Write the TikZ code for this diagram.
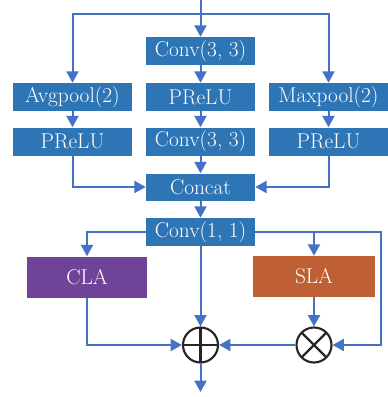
\documentclass[tikz,border=0pt]{standalone}
\usepackage{xcolor}
\usepackage{tikz}
\usetikzlibrary{positioning, arrows.meta}
\definecolor{boxblue}{HTML}{2E75B6}
\definecolor{claviolet}{HTML}{6F4498}
\definecolor{slaorange}{HTML}{BF6034}
\definecolor{flowblue}{HTML}{4472C4}

\tikzset{
  opbox/.style={fill=boxblue, text=white, inner sep=0pt, minimum width=109*0.75pt,
                minimum height=28*0.75pt, font=\fontsize{16}{19}\selectfont},
  sidebox/.style={opbox, minimum width=119*0.75pt},
  attbox/.style={opbox, minimum width=121*0.75pt, minimum height=41*0.75pt},
  flow/.style={draw=flowblue, line width=1.5pt, -{Triangle[width=9pt, length=8.5pt]}},
  fuse/.style={circle, draw=black!85, line width=1.6pt, minimum size=35*0.75pt, inner sep=0pt}
}

\begin{document}
\begin{tikzpicture}[x=0.75pt, y=-0.75pt]
    \useasboundingbox (0,0) rectangle (388,397);

    % feature extraction part
    \node[opbox] (conva) at (200.5,51) {Conv(3, 3)};
    \node[opbox] (preluc) at (200.5,97) {PReLU};
    \node[opbox] (convb) at (200.5,141.5) {Conv(3, 3)};
    \node[opbox, minimum height=27*0.75pt] (concat) at (200.5,187) {Concat};
    \node[sidebox] (avg) at (72.5,97) {Avgpool(2)};
    \node[sidebox] (prelul) at (72.5,141.5) {PReLU};
    \node[sidebox] (maxp) at (328.5,97) {Maxpool(2)};
    \node[sidebox] (prelur) at (328.5,141.5) {PReLU};
    \node[opbox] (convc) at (200.5,232) {Conv(1, 1)};

    % attention part
    \node[attbox, fill=claviolet, minimum width=120*0.75pt] (cla) at (87,277) {CLA};
    \node[attbox, fill=slaorange, minimum width=122*0.75pt] (sla) at (314,276.5) {SLA};
    \node[fuse, path picture={
      \draw[black!85, line width=1.6pt] (path picture bounding box.north) -- (path picture bounding box.south)
        (path picture bounding box.west) -- (path picture bounding box.east);}] (plus) at (200.5,345) {};
    \node[fuse, path picture={
      \draw[black!85, line width=1.6pt] (path picture bounding box.north west) -- (path picture bounding box.south east)
        (path picture bounding box.south west) -- (path picture bounding box.north east);}] (times) at (314,345) {};

    \coordinate (in) at (200.5,0);
    \coordinate (split) at (200.5,14);
    \coordinate (rside) at (381,232);
    \coordinate (out) at (200.5,392);

    % connectors
    \draw[flow] (in) -- (conva);
    \draw[flow] (split) -| (avg);
    \draw[flow] (split) -| (maxp);
    \draw[flow] (conva) -- (preluc);
    \draw[flow] (preluc) -- (convb);
    \draw[flow] (convb) -- (concat);
    \draw[flow] (avg) -- (prelul);
    \draw[flow] (maxp) -- (prelur);
    \draw[flow] (prelul) |- (concat);
    \draw[flow] (prelur) |- (concat);
    \draw[flow] (concat) -- (convc);
    \draw[flow] (convc.west) -| (cla.north);
    \draw[flow] (convc.east) -| (sla.north);
    \draw[flow] (convc.east) -- (rside) |- (times.east);
    \draw[flow] (convc) -- (plus);
    \draw[flow] (cla.south) |- (plus.west);
    \draw[flow] (sla) -- (times);
    \draw[flow] (times) -- (plus);
    \draw[flow] (plus) -- (out);
  \end{tikzpicture}
\end{document}
